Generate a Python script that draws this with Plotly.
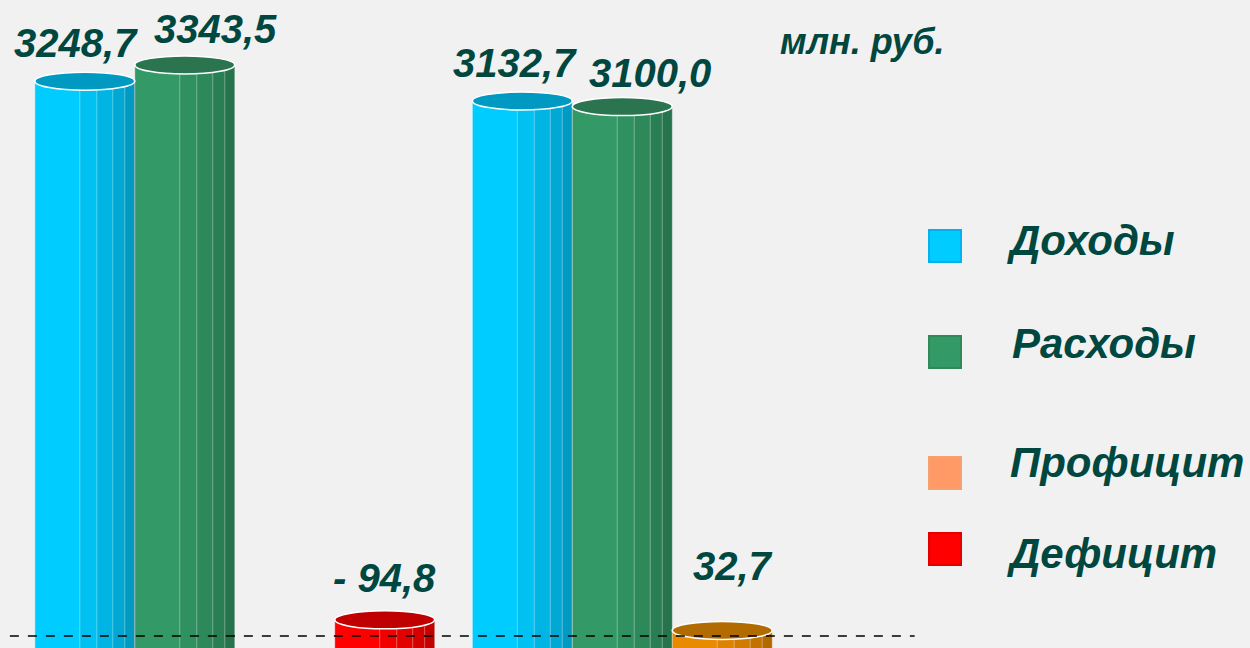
import plotly.graph_objects as go

# ---------------- data ----------------
periods = [0, 1]                      # two budget periods (no visible tick labels)
series_names = ["Доходы", "Расходы", "Профицит", "Дефицит"]
dokhody = [3248.7, 3132.7]
raskhody = [3343.5, 3100.0]
proficit = [None, 32.7]
deficit = [-94.8, None]
unit_label = "млн. руб."

# ---------------- styles ----------------
bar_colors = ["#00CCFF", "#339966", "#E98B00", "#FF0000"]
cap_colors = ["#0099C2", "#2B7450", "#B26B00", "#C00000"]
legend_fill = ["#00CCFF", "#339966", "#FF9966", "#FF0000"]
legend_line = ["#00B0F0", "#2E8B57", "#F4A070", "#E00000"]
text_color = "#00473F"
FONT = "Liberation Sans"

series_vals = [dokhody, raskhody, proficit, deficit]

bargap = 0.086
n_slots = 4
slot_w = (1 - bargap) / n_slots
y_floor = -400  # bars grow from below the visible axis floor

fig = go.Figure()
for k, (name, vals) in enumerate(zip(series_names, series_vals)):
    yv = [abs(v) if v is not None else None for v in vals]
    fig.add_trace(go.Bar(
        x=periods, y=[(v - y_floor) if v is not None else None for v in yv],
        base=y_floor, name=name, showlegend=False,
        marker=dict(color=bar_colors[k], line=dict(color="rgba(255,255,255,0.6)", width=0.8)),
        hoverinfo="skip",
    ))

shapes = []
annotations = []
# label offsets (pixels) per series, per period
label_dx = [[-9, -7], [31, 28], [11, 11], [0, 0]]
label_dy = [[14, 14], [12, 10], [40, 40], [18, 18]]
for k, vals in enumerate(series_vals):
    for g, v in zip(periods, vals):
        if v is None:
            continue
        top = abs(v)
        cx = g + (k - (n_slots - 1) / 2) * slot_w
        x0, x1 = cx - slot_w / 2, cx + slot_w / 2
        # shading stripes to suggest a cylinder
        for frac, op in [(0.45, 0.05), (0.62, 0.06), (0.78, 0.07), (0.9, 0.08)]:
            shapes.append(dict(type="rect", xref="x", yref="y",
                               x0=x0 + frac * slot_w, x1=x1, y0=y_floor, y1=top,
                               fillcolor=f"rgba(0,0,0,{op})", line=dict(width=0),
                               layer="above"))
            shapes.append(dict(type="line", xref="x", yref="y",
                               x0=x0 + frac * slot_w, x1=x0 + frac * slot_w, y0=y_floor, y1=top,
                               line=dict(color="rgba(255,255,255,0.35)", width=1),
                               layer="above"))
        # top cap
        shapes.append(dict(type="circle", xref="x", yref="y", ysizemode="pixel",
                           yanchor=top, x0=x0, x1=x1, y0=-9, y1=9,
                           fillcolor=cap_colors[k], line=dict(color="white", width=1.5),
                           layer="above"))
        txt = f"{abs(v):.1f}".replace(".", ",")
        if v < 0:
            txt = "- " + txt
        annotations.append(dict(x=cx, y=top, xref="x", yref="y", text=txt,
                                showarrow=False, yanchor="bottom", xanchor="center",
                                xshift=label_dx[k][g], yshift=label_dy[k][g],
                                font=dict(family=FONT, size=40, color=text_color,
                                          weight="bold", style="italic")))

# zero line (dashed)
shapes.append(dict(type="line", xref="paper", yref="y", x0=-0.007, x1=1.027, y0=0, y1=0,
                   line=dict(color="black", width=1.5, dash="dash"), layer="above"))

# custom legend
W, H = 1250, 648
l, r = 16, 359
pw = W - l - r
def px2x(px):
    return (px - l) / pw
def py2y(py):
    return 1 - py / H

leg_sq_y = [(230, 262), (336, 368), (457, 489), (533, 565)]
leg_txt = [(1005, 240), (1010, 343), (1008, 463), (1005, 553)]
for i, name in enumerate(series_names):
    y0p, y1p = leg_sq_y[i]
    shapes.append(dict(type="rect", xref="paper", yref="paper",
                       x0=px2x(929), x1=px2x(961), y0=py2y(y1p), y1=py2y(y0p),
                       fillcolor=legend_fill[i], line=dict(color=legend_line[i], width=2)))
    tx, ty = leg_txt[i]
    annotations.append(dict(x=px2x(tx), y=py2y(ty), xref="paper", yref="paper",
                            text=name, showarrow=False, xanchor="left", yanchor="middle",
                            font=dict(family=FONT, size=42, color=text_color,
                                      weight="bold", style="italic")))

annotations.append(dict(x=px2x(778), y=py2y(42), xref="paper", yref="paper",
                        text=unit_label, showarrow=False, xanchor="left", yanchor="middle",
                        font=dict(family=FONT, size=36, color=text_color,
                                  weight="bold", style="italic")))

fig.update_layout(
    width=W, height=H,
    margin=dict(l=l, r=r, t=0, b=0),
    barmode="group", bargap=bargap, bargroupgap=0,
    paper_bgcolor="#F1F1F1", plot_bgcolor="rgba(0,0,0,0)",
    xaxis=dict(range=[-0.5, 1.5], visible=False, fixedrange=True),
    yaxis=dict(range=[-70, 3724], visible=False, fixedrange=True),
    shapes=shapes, annotations=annotations,
    showlegend=False,
)

fig.write_html("out.html", config={"displayModeBar": False},
               post_script="document.body.style.margin='0';document.body.style.overflow='hidden';document.body.style.background='#F1F1F1';")
